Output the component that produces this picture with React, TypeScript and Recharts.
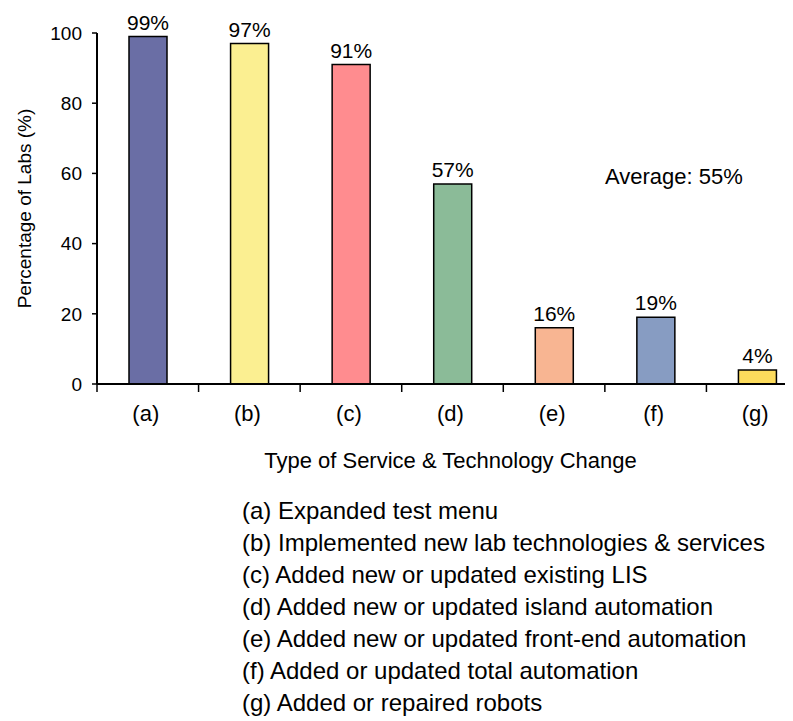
import React from "react";
import { BarChart, Bar, XAxis, YAxis, Cell, LabelList } from "recharts";

const categories = ["(a)", "(b)", "(c)", "(d)", "(e)", "(f)", "(g)"];
const percentages = [99, 97, 91, 57, 16, 19, 4];
const barColors = ["#6a6ea5", "#fbef91", "#ff8c8f", "#8bbb98", "#f8b592", "#879cc2", "#fcdb5c"];
const yTicks = [0, 20, 40, 60, 80, 100];
const descriptions = [
  "(a) Expanded test menu",
  "(b) Implemented new lab technologies & services",
  "(c) Added new or updated existing LIS",
  "(d) Added new or updated island automation",
  "(e) Added new or updated front-end automation",
  "(f) Added or updated total automation",
  "(g) Added or repaired robots",
];
const averageText = "Average: 55%";
const xTitle = "Type of Service & Technology Change";
const yTitle = "Percentage of Labs (%)";

const data = categories.map((name, i) => ({ name, value: percentages[i] }));

const FONT = '"Liberation Sans", Arial, sans-serif';
const CHART_W = 820;
const MARGIN = { top: 25, right: 20, left: 0, bottom: 0 };
const Y_AXIS_W = 89;
const BAND = (CHART_W - MARGIN.right - Y_AXIS_W) / categories.length;

// tick mark sits on the band boundary, label in the middle of the band
const CategoryTick = (props: any) => {
  const { x, y, payload } = props;
  const half = payload && payload.offset ? payload.offset : BAND / 2;
  return (
    <g>
      <line x1={x - half} x2={x - half} y1={y} y2={y + 8} stroke="#000" strokeWidth={1.5} />
      <text x={x - 2} y={y + 29} textAnchor="middle" dominantBaseline="central" fontSize={22} fontFamily={FONT} fill="#000">
        {payload.value}
      </text>
    </g>
  );
};

export default function App() {
  return (
    <div style={{ position: "relative", width: 785, height: 713, overflow: "hidden", fontFamily: FONT }}>
      <BarChart width={CHART_W} height={466} data={data} margin={MARGIN}>
        <YAxis
          width={Y_AXIS_W}
          domain={[0, 100]}
          ticks={yTicks}
          interval={0}
          tickSize={5}
          tickMargin={10}
          tick={{ fontSize: 19, fill: "#000", fontFamily: FONT }}
          axisLine={{ stroke: "#000", strokeWidth: 2 }}
          tickLine={{ stroke: "#000", strokeWidth: 1.5 }}
          label={{
            content: ({ viewBox }: any) => {
              const cx = 16;
              const cy = viewBox.y + viewBox.height / 2;
              return (
                <text x={cx} y={cy} transform={`rotate(-90 ${cx} ${cy})`} textAnchor="middle" dominantBaseline="central" fontSize={19} fontFamily={FONT} fill="#000">
                  {yTitle}
                </text>
              );
            },
          }}
        />
        <XAxis
          dataKey="name"
          height={90}
          interval={0}
          tickSize={0}
          tickMargin={0}
          tickLine={false}
          tick={<CategoryTick />}
          axisLine={{ stroke: "#000", strokeWidth: 2 }}
          label={{
            content: ({ viewBox }: any) => (
              <text x={viewBox.x + viewBox.width / 2 - 2} y={viewBox.y + 76} textAnchor="middle" dominantBaseline="central" fontSize={22} fontFamily={FONT} fill="#000">
                {xTitle}
              </text>
            ),
          }}
        />
        <Bar dataKey="value" barSize={38} stroke="#000" strokeWidth={1.5} isAnimationActive={false}>
          {data.map((d, i) => (
            <Cell key={d.name} fill={barColors[i]} />
          ))}
          <LabelList
            dataKey="value"
            position="top"
            offset={7}
            formatter={(v: any) => `${v}%`}
            style={{ fontSize: 21, fill: "#000", fontFamily: FONT }}
          />
        </Bar>
      </BarChart>
      <div style={{ position: "absolute", left: 597, top: 156, fontSize: 22, color: "#000" }}>{averageText}</div>
      <div style={{ position: "absolute", left: 234, top: 487, fontSize: 24, lineHeight: "32px", color: "#000" }}>
        {descriptions.map((t) => (
          <div key={t}>{t}</div>
        ))}
      </div>
    </div>
  );
}
